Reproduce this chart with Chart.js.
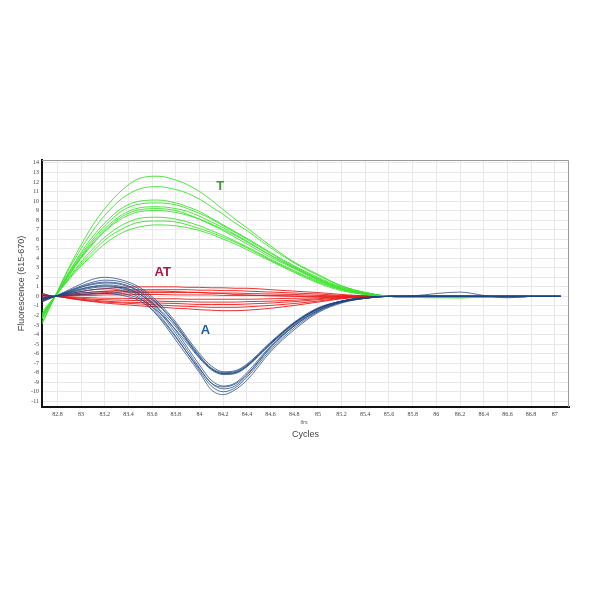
<!DOCTYPE html>
<html><head><meta charset="utf-8">
<script src="https://cdn.jsdelivr.net/npm/chart.js@4/dist/chart.umd.min.js"></script>
<style>html,body{margin:0;padding:0;background:#fff}</style>
</head><body>
<canvas id="c" width="600" height="600"></canvas>
<script>
// Temperatures (x) at which every curve is sampled
const temps = [82.67, 82.78, 82.9, 83.0, 83.1, 83.2, 83.35, 83.5, 83.65, 83.8, 83.9, 84.0, 84.1, 84.2, 84.3, 84.4, 84.6, 84.8, 85.0, 85.2, 85.4, 85.6, 85.8, 86.0, 86.2, 86.4, 86.6, 86.8, 87.05];
const xTicks = [82.8, 83, 83.2, 83.4, 83.6, 83.8, 84, 84.2, 84.4, 84.6, 84.8, 85, 85.2, 85.4, 85.6, 85.8, 86, 86.2, 86.4, 86.6, 86.8, 87];
const yTicks = [-11, -10, -9, -8, -7, -6, -5, -4, -3, -2, -1, 0, 1, 2, 3, 4, 5, 6, 7, 8, 9, 10, 11, 12, 13, 14];

// Group "T" (green)
const curvesT = [
  [-2.9, 0, 3.1, 5.4, 7.5, 9.2, 11.2, 12.4, 12.6, 12.2, 11.7, 11.0, 10.1, 9.1, 8.1, 7.2, 5.3, 3.6, 2.3, 1.1, 0.4, 0.0, -0.1, -0.1, -0.1, -0.1, -0.1, 0, 0],
  [-2.7, 0, 2.9, 5.0, 6.9, 8.5, 10.3, 11.3, 11.5, 11.2, 10.8, 10.2, 9.4, 8.6, 7.7, 6.9, 5.1, 3.5, 2.2, 1.1, 0.4, 0.0, -0.1, -0.1, -0.1, -0.1, -0.1, 0, 0],
  [-2.4, 0, 2.6, 4.6, 6.3, 7.7, 9.3, 10.0, 10.1, 9.8, 9.4, 8.9, 8.2, 7.5, 6.8, 6.1, 4.6, 3.2, 2.0, 1.0, 0.4, 0.0, -0.1, -0.1, -0.15, -0.1, -0.1, 0, 0],
  [-2.3, 0, 2.5, 4.4, 6.0, 7.4, 9.0, 9.7, 9.8, 9.6, 9.2, 8.7, 8.1, 7.4, 6.7, 6.0, 4.5, 3.1, 1.9, 0.9, 0.3, 0.0, -0.1, -0.15, -0.15, -0.1, -0.1, 0, 0],
  [-2.2, 0, 2.4, 4.2, 5.8, 7.1, 8.6, 9.3, 9.4, 9.2, 8.9, 8.4, 7.8, 7.2, 6.5, 5.8, 4.3, 3.0, 1.8, 0.9, 0.3, 0.0, -0.1, -0.1, -0.1, -0.1, -0.1, 0, 0],
  [-2.1, 0, 2.3, 4.1, 5.6, 6.9, 8.4, 9.1, 9.2, 9.0, 8.6, 8.1, 7.5, 6.9, 6.2, 5.5, 4.1, 2.9, 1.7, 0.8, 0.3, 0.0, -0.1, -0.1, -0.1, -0.1, -0.1, 0, 0],
  [-2.0, 0, 2.2, 4.0, 5.5, 6.8, 8.2, 8.9, 9.0, 8.8, 8.5, 8.1, 7.6, 7.0, 6.4, 5.7, 4.3, 3.0, 1.8, 0.8, 0.3, 0.0, -0.1, -0.1, -0.1, -0.1, -0.1, 0, 0],
  [-1.9, 0, 2.0, 3.6, 5.0, 6.2, 7.5, 8.2, 8.3, 8.1, 7.8, 7.4, 6.9, 6.4, 5.8, 5.2, 3.9, 2.7, 1.6, 0.7, 0.2, 0.0, -0.1, -0.1, -0.1, -0.1, -0.1, 0, 0],
  [-1.8, 0, 1.9, 3.4, 4.7, 5.9, 7.1, 7.8, 7.9, 7.8, 7.5, 7.1, 6.7, 6.2, 5.7, 5.1, 3.8, 2.6, 1.5, 0.7, 0.2, 0.0, -0.1, -0.1, -0.1, -0.1, -0.1, 0, 0],
  [-1.6, 0, 1.8, 3.2, 4.4, 5.5, 6.7, 7.3, 7.5, 7.4, 7.2, 6.9, 6.5, 6.0, 5.5, 4.9, 3.7, 2.5, 1.4, 0.6, 0.2, 0.0, -0.1, -0.1, -0.1, -0.1, -0.1, 0, 0]
];

// Group "AT" (red)
const curvesAT = [
  [0.3, 0, 0.3, 0.5, 0.7, 0.8, 0.95, 1.0, 1.0, 1.0, 0.95, 0.95, 0.9, 0.9, 0.85, 0.85, 0.7, 0.55, 0.4, 0.2, 0.05, 0, 0, 0.05, 0.05, 0, 0, 0, 0],
  [0.2, 0, 0.2, 0.35, 0.45, 0.55, 0.65, 0.7, 0.7, 0.7, 0.7, 0.65, 0.65, 0.6, 0.6, 0.55, 0.45, 0.35, 0.25, 0.1, 0.05, 0, 0, 0, 0, 0, 0, 0, 0],
  [0.1, 0, 0.1, 0.2, 0.25, 0.3, 0.35, 0.4, 0.4, 0.4, 0.4, 0.4, 0.35, 0.35, 0.35, 0.3, 0.25, 0.2, 0.1, 0.05, 0, 0, 0, 0.05, 0, 0, 0, 0, 0],
  [0.05, 0, 0.05, 0.1, 0.1, 0.15, 0.15, 0.2, 0.2, 0.15, 0.15, 0.15, 0.15, 0.1, 0.1, 0.1, 0.1, 0.05, 0, 0, 0, 0, 0, 0, 0, 0, 0, 0, 0],
  [-0.1, 0, -0.05, -0.1, -0.15, -0.2, -0.2, -0.25, -0.25, -0.25, -0.3, -0.3, -0.3, -0.3, -0.3, -0.3, -0.25, -0.2, -0.15, -0.05, 0, 0, 0, 0, 0, 0, 0, 0, 0],
  [-0.2, 0, -0.1, -0.2, -0.3, -0.35, -0.4, -0.45, -0.5, -0.55, -0.55, -0.6, -0.6, -0.6, -0.6, -0.55, -0.5, -0.4, -0.25, -0.1, 0, 0, 0, 0, 0, 0, 0, 0, 0],
  [-0.3, 0, -0.15, -0.3, -0.4, -0.5, -0.6, -0.65, -0.7, -0.75, -0.8, -0.85, -0.85, -0.85, -0.85, -0.8, -0.7, -0.55, -0.35, -0.15, -0.05, 0, 0, 0, 0, 0, 0, 0, 0],
  [-0.4, 0, -0.2, -0.35, -0.5, -0.6, -0.7, -0.8, -0.9, -1.0, -1.05, -1.1, -1.15, -1.15, -1.15, -1.1, -0.95, -0.75, -0.5, -0.2, -0.05, 0, 0, 0, 0, 0, 0, 0, 0],
  [-0.5, 0, -0.2, -0.4, -0.55, -0.7, -0.85, -1.0, -1.1, -1.25, -1.3, -1.4, -1.45, -1.5, -1.5, -1.45, -1.25, -0.95, -0.6, -0.25, -0.05, 0, 0, 0, 0, 0, 0, 0, 0],
  [0.15, 0, 0.1, 0.2, 0.3, 0.4, 0.5, 0.55, 0.55, 0.5, 0.45, 0.4, 0.35, 0.3, 0.2, 0.15, 0.05, 0, -0.05, -0.05, 0, 0, 0, 0, 0, 0, 0, 0, 0]
];

// Group "A" (blue)
const curvesA = [
  [-0.6, 0, 0.7, 1.3, 1.8, 2.0, 1.7, 0.9, -0.6, -2.7, -4.4, -6.0, -7.3, -7.9, -7.8, -7.1, -4.8, -2.7, -1.2, -0.5, -0.15, 0, 0, 0, 0, 0, 0, 0, 0],
  [-0.5, 0, 0.6, 1.1, 1.5, 1.7, 1.5, 0.7, -0.8, -2.9, -4.6, -6.2, -7.5, -8.0, -7.9, -7.2, -4.9, -2.8, -1.3, -0.5, -0.15, 0, 0, 0, 0, 0, 0, 0, 0],
  [-0.4, 0, 0.55, 1.0, 1.35, 1.5, 1.3, 0.5, -0.9, -3.0, -4.7, -6.3, -7.6, -8.1, -8.0, -7.3, -5.0, -2.8, -1.3, -0.5, -0.1, 0, 0, 0, 0, 0, 0, 0, 0],
  [-0.35, 0, 0.5, 0.95, 1.25, 1.4, 1.2, 0.4, -1.3, -3.6, -5.4, -7.2, -8.8, -9.4, -9.1, -8.0, -5.2, -3.0, -1.4, -0.6, -0.2, 0, 0, 0, 0, 0, 0, 0, 0],
  [-0.3, 0, 0.45, 0.8, 1.05, 1.2, 1.0, 0.2, -1.5, -3.9, -5.7, -7.5, -9.1, -9.7, -9.4, -8.3, -5.4, -3.1, -1.5, -0.6, -0.2, 0, 0, 0, 0, 0, 0, 0, 0],
  [-0.2, 0, 0.35, 0.65, 0.9, 1.0, 0.8, 0.0, -1.8, -4.2, -6.0, -7.8, -9.4, -10.0, -9.6, -8.5, -5.6, -3.3, -1.6, -0.6, -0.2, 0, 0, 0, 0, 0, 0, 0, 0],
  [-0.1, 0, 0.3, 0.5, 0.7, 0.8, 0.6, -0.2, -2.1, -4.6, -6.3, -8.0, -9.8, -10.3, -9.8, -8.8, -5.8, -3.5, -1.7, -0.7, -0.2, 0, 0, 0, 0, 0, 0, 0, 0],
  [0.1, 0, 0.2, 0.35, 0.45, 0.5, 0.3, -0.3, -1.6, -3.5, -5.0, -6.5, -7.7, -8.2, -8.1, -7.4, -5.0, -2.9, -1.3, -0.5, -0.1, 0, 0, 0, 0, 0, 0, 0, 0],
  [-0.25, 0, 0.4, 0.75, 1.0, 1.1, 0.9, 0.2, -1.2, -3.2, -4.8, -6.4, -7.6, -8.1, -8.0, -7.3, -4.9, -2.8, -1.3, -0.5, -0.15, 0, 0, 0, 0, 0, 0, 0, 0],
  [0.3, 0, 0.1, 0.2, 0.25, 0.3, 0.1, -0.5, -2.0, -4.3, -6.0, -7.6, -9.1, -9.5, -9.2, -8.2, -5.3, -3.1, -1.5, -0.6, -0.2, 0, 0.05, 0.3, 0.45, 0.1, -0.15, 0, 0]
];

// Group labels
const groupNames = ['T', 'AT', 'A'];
const groupLabelX = [84.175, 83.69, 84.05];
const groupLabelY = [11.5, 2.5, -3.6];

const colT = 'rgba(60,225,45,0.9)';
const colAT = 'rgba(235,25,25,0.9)';
const colA = 'rgba(30,70,130,0.75)';
const labelColors = ['#3b9c2a', '#b5123f', '#1e5b99'];

function mk(curve, color) {
  return {
    data: temps.map((t, i) => ({x: t, y: curve[i]})),
    borderColor: color, borderWidth: 1, pointRadius: 0, fill: false,
    tension: 0.4, cubicInterpolationMode: 'monotone'
  };
}
const datasets = [
  ...curvesA.map(c => mk(c, colA)),
  ...curvesT.map(c => mk(c, colT)),
  ...curvesAT.map(c => mk(c, colAT))
];

const overlay = {
  id: 'overlay',
  afterDraw(chart) {
    const {ctx, chartArea: a, scales: {x, y}} = chart;
    ctx.save();
    ctx.strokeStyle = '#9a9a9a'; ctx.lineWidth = 1;
    ctx.beginPath();
    ctx.moveTo(a.left, a.top + 0.5); ctx.lineTo(a.right - 0.5, a.top + 0.5); ctx.lineTo(a.right - 0.5, a.bottom);
    ctx.stroke();
    ctx.font = 'bold 13px "Liberation Sans", Arial, sans-serif';
    ctx.textAlign = 'center'; ctx.textBaseline = 'middle';
    groupNames.forEach((n, i) => {
      ctx.fillStyle = labelColors[i];
      ctx.fillText(n, x.getPixelForValue(groupLabelX[i]), y.getPixelForValue(groupLabelY[i]));
    });
    ctx.font = '5px "Liberation Sans", Arial, sans-serif';
    ctx.fillStyle = '#555';
    ctx.fillText('ðrs', 304, 423);
    ctx.restore();
  }
};

new Chart(document.getElementById('c'), {
  type: 'line',
  data: {datasets},
  options: {
    responsive: false, animation: false, devicePixelRatio: 1,
    layout: {padding: {top: 160, left: 16, right: 31, bottom: 153}},
    plugins: {legend: {display: false}, tooltip: {enabled: false}},
    scales: {
      x: {
        type: 'linear', min: 82.67, max: 87.12,
        afterBuildTicks: s => { s.ticks = xTicks.map(v => ({value: v})); },
        afterFit: s => { s.height = 40; },
        grid: {color: '#e8e8e8', drawTicks: false},
        border: {color: '#111', width: 2},
        ticks: {autoSkip: false, maxRotation: 0, padding: 4, color: '#444',
          font: {size: 6, family: '"Liberation Serif", serif'},
          callback: v => String(Number(v.toFixed(1)))},
        title: {display: true, text: 'Cycles', color: '#444',
          font: {size: 9, family: '"Liberation Sans", Arial, sans-serif'},
          padding: {top: 0, bottom: 7.5}}
      },
      y: {
        type: 'linear', min: -11.6, max: 14.3,
        afterBuildTicks: s => { s.ticks = yTicks.map(v => ({value: v})); },
        afterFit: s => { s.width = 26; },
        grid: {color: '#e8e8e8', drawTicks: false},
        border: {color: '#111', width: 2},
        ticks: {autoSkip: false, padding: 3, color: '#444',
          font: {size: 6, family: '"Liberation Serif", serif'}},
        title: {display: true, text: 'Fluorescence (615-670)', color: '#444',
          font: {size: 9, family: '"Liberation Sans", Arial, sans-serif'},
          padding: {top: 0, bottom: 0}}
      }
    }
  },
  plugins: [overlay]
});
</script>
</body></html>
